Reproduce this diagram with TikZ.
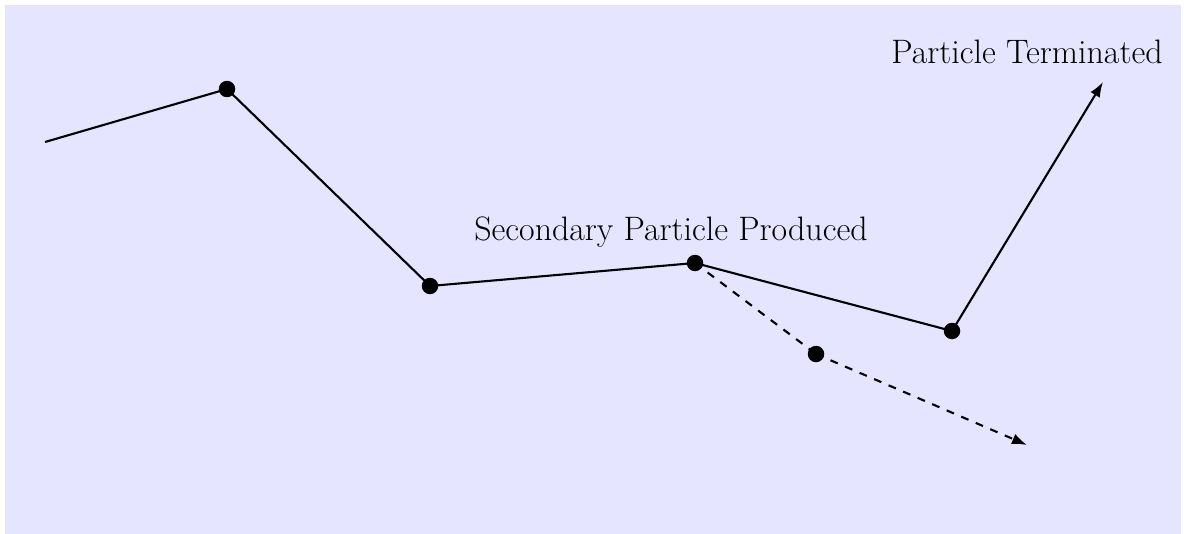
\documentclass[tikz,border=0pt]{standalone}
\usetikzlibrary{arrows.meta}
\begin{document}
\begin{tikzpicture}[x=0.02cm,y=-0.02cm,
  track/.style={line width=1.2pt},
  sectrack/.style={line width=1.2pt,dash pattern=on 4.5pt off 4.5pt},
  tip/.style={-{Latex[length=0.3cm,width=0.22cm]}},
  vertex/.style={circle,fill=black,inner sep=0pt,minimum size=0.33cm},
  lbl/.style={font=\fontsize{19.3}{22}\selectfont}]
\useasboundingbox (0,0) rectangle (1184,534);
\fill[blue!10] (5,5) rectangle (1181,534);
\coordinate (p0) at (45,142);
\node[vertex] (p1) at (227,89) {};
\node[vertex] (p2) at (430,286) {};
\node[vertex] (p3) at (695,263) {};
\node[vertex] (p4) at (952,331) {};
\coordinate (p5) at (1103,82);
\node[vertex] (s1) at (816,354) {};
\coordinate (s2) at (1027,445);
\draw[track] (p0) -- (p1.center) -- (p2.center) -- (p3.center) -- (p4.center);
\draw[track,tip] (p4.center) -- (p5);
\draw[sectrack] (p3.center) -- (s1.center);
\draw[sectrack,tip] (s1.center) -- (s2);
\node[lbl] (t1) at (1027,52) {Particle Terminated};
\node[lbl] (t2) at (671,232) {Secondary Particle Produced};
\end{tikzpicture}
\end{document}
